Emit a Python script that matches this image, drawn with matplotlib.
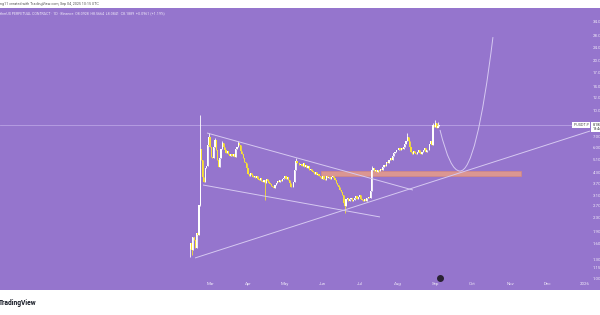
import matplotlib
matplotlib.use("Agg")
import matplotlib.pyplot as plt
from matplotlib.path import Path
from matplotlib.patches import PathPatch, Rectangle
from matplotlib.transforms import blended_transform_factory

plt.rcParams['font.family'] = ['Roboto', 'DejaVu Sans']

# ---------------- data (day index 0 = 2025-02-13) ----------------
closes = [
    1.62, 1.48, 1.75, 1.68, 1.52, 1.85, 1.80, 2.75, 5.90, 5.10,
    4.00, 3.75, 4.55, 4.70, 6.20, 6.95, 6.10, 5.30, 5.25, 6.10,
    6.65, 5.80, 5.05, 4.62, 5.20, 5.90, 6.40, 6.05, 5.80, 5.60,
    5.75, 5.50, 5.35, 5.50, 5.40, 5.55, 5.30, 5.90, 6.10, 6.40,
    6.20, 5.75, 5.55, 5.20, 4.95, 4.85, 4.55, 4.20, 4.05, 4.25,
    4.15, 4.00, 4.10, 3.95, 4.05, 3.90, 3.85, 3.95, 3.80, 3.75,
    3.85, 3.70, 3.90, 3.80, 3.72, 3.65, 3.55, 3.50, 3.45, 3.58,
    3.70, 3.80, 3.75, 3.85, 3.78, 3.90, 3.95, 4.05, 3.92, 4.00,
    3.88, 3.70, 3.50, 3.48, 3.75, 4.40, 5.00, 4.85, 4.90, 4.75,
    4.80, 4.70, 4.85, 4.62, 4.75, 4.55, 4.65, 4.45, 4.50, 4.35,
    4.28, 4.20, 4.30, 4.15, 4.20, 4.10, 4.00, 3.92, 4.05, 3.90,
    3.88, 4.05, 3.95, 4.00, 3.92, 4.02, 4.06, 3.95, 3.88, 3.72,
    3.60, 3.50, 3.35, 3.28, 3.15, 2.80, 2.70, 2.95, 3.00, 2.90,
    2.95, 3.02, 2.88, 2.92, 3.00, 3.10, 2.95, 3.05, 3.12, 2.98,
    2.92, 2.88, 2.95, 2.90, 3.00, 3.05, 3.02, 3.30, 4.40, 4.55,
    4.35, 4.40, 4.30, 4.45, 4.38, 4.50, 4.42, 4.60, 4.75, 4.70,
    4.95, 4.85, 5.05, 5.20, 5.10, 5.35, 5.60, 5.70, 5.85, 5.80,
    5.95, 5.85, 6.00, 5.90, 6.05, 6.30, 6.55, 7.00, 6.60, 6.10,
    5.70, 5.55, 5.75, 5.60, 5.50, 5.70, 5.85, 5.60, 5.50, 5.65,
    5.80, 5.95, 5.70, 5.85, 5.80, 6.30, 6.60, 6.25, 8.20, 7.95,
    8.40, 7.90, 8.09, 8.19,
]
first_open = 1.50
# notable wick extremes {day: price}
wick_highs = {8: 9.43, 15: 7.36, 20: 6.90, 26: 6.60, 39: 6.60, 86: 5.25, 148: 4.70,
              177: 7.36, 198: 8.45, 200: 8.80, 202: 8.57}
wick_lows = {0: 1.34, 1: 1.38, 8: 2.70, 61: 2.93, 126: 2.45, 202: 8.08}

month_days = [16, 47, 77, 108, 138, 169, 200, 230, 261, 291, 322]
month_labels = ['Mar', 'Apr', 'May', 'Jun', 'Jul', 'Aug', 'Sep', 'Oct', 'Nov', 'Dec', '2026']
price_ticks = [34, 28, 24, 20, 17, 14, 12, 10, 7.0, 6.0, 5.1, 4.3, 3.7,
               3.1, 2.7, 2.3, 1.9, 1.6, 1.3, 1.15, 1.0]

# drawings (day, price)
trendlines = [((13.55, 7.36), (181.6, 3.36)),
              ((10.3, 3.60), (154.7, 2.32)),
              ((3.76, 1.32), (326.1, 7.56))]
zone_days = (106.7, 269.5)
zone_prices = (4.07, 4.36)
curve_pts = [(203.7, 7.67), (211.8, 4.36), (220.0, 4.36), (233.5, 4.36), (246.9, 27.5)]

header = ("therUS PERPETUAL CONTRACT \u00b7 1D \u00b7 Binance  O8.0928  H8.5664  "
          "L8.0841  C8.1889  +0.0961 (+1.19%)")
credit = "ng11 created with TradingView.com, Sep 04, 2025 10:15 UTC"
symbol = "IPUSDT.P"

# ---------------- styling ----------------
PURPLE = '#9575cd'
UP = '#ffffff'
DOWN = '#f8e032'
LINE = '#d6c9f1'
TXT = '#efe9f8'

fig = plt.figure(figsize=(6, 3.15), dpi=100)
fig.patch.set_facecolor('white')

bg = fig.add_axes([0, 25 / 315, 1, 282 / 315], zorder=-5)
bg.set_facecolor(PURPLE)
bg.set_xticks([]); bg.set_yticks([])
for s in bg.spines.values():
    s.set_visible(False)

ax = fig.add_axes([0, 35 / 315, 590 / 600, 272 / 315], zorder=1)
ax.set_facecolor('none')
ax.set_yscale('log')
ax.set_xlim(-155.4, 326.1)
ax.set_ylim(0.975, 41.05)
for s in ax.spines.values():
    s.set_visible(False)

# candles
opens = [first_open] + closes[:-1]
for i, (o, c) in enumerate(zip(opens, closes)):
    col = UP if c >= o else DOWN
    hi = wick_highs.get(i, max(o, c))
    lo = wick_lows.get(i, min(o, c))
    if hi > lo:
        ax.vlines(i, lo, hi, color=col, lw=0.6, zorder=3)
    ax.bar(i, abs(c - o) if c != o else 0.01, bottom=min(o, c), width=0.95,
           color=col, edgecolor='none', zorder=4)

# price line
ax.axhline(closes[-1], color='#b9a2e4', lw=0.6, zorder=2)

# zone
ax.add_patch(Rectangle((zone_days[0], zone_prices[0]), zone_days[1] - zone_days[0],
                       zone_prices[1] - zone_prices[0], facecolor='#e39a8c',
                       edgecolor='#d7897c', lw=0.5, alpha=0.9, zorder=2))

# trendlines
for (x0, y0), (x1, y1) in trendlines:
    ax.plot([x0, x1], [y0, y1], color=LINE, lw=0.7, zorder=5, solid_capstyle='butt')

# projected curve
codes = [Path.MOVETO, Path.CURVE3, Path.CURVE3, Path.CURVE3, Path.CURVE3]
ax.add_patch(PathPatch(Path(curve_pts, codes), facecolor='none', edgecolor=LINE,
                       lw=0.7, zorder=5))

# axes ticks
ax.set_xticks(month_days)
ax.set_xticklabels(month_labels)
ax.tick_params(axis='x', length=0, pad=1.6, labelsize=3.2, labelcolor=TXT)
ax.yaxis.tick_right()
ax.set_yticks(price_ticks)
ax.set_yticklabels([f"{v:.4f}" for v in price_ticks])
ax.yaxis.set_minor_locator(matplotlib.ticker.NullLocator())
ax.tick_params(axis='y', length=0, pad=2.2, labelsize=3.2, labelcolor=TXT)

# price labels on scale
bt = blended_transform_factory(ax.transAxes, ax.transData)
ax.text(0.9985, closes[-1], symbol, transform=bt, ha='right', va='center',
        fontsize=2.7, color='#555555', zorder=8, clip_on=False,
        bbox=dict(boxstyle='square,pad=0.25', fc='white', ec='none'))
ax.text(1.004, closes[-1] * 1.03, "8.1889\n13:44:48", transform=bt, ha='left', va='top',
        fontsize=2.7, color='#333333', zorder=8, clip_on=False, linespacing=1.0,
        bbox=dict(boxstyle='square,pad=0.25', fc='white', ec='none'))

# event icon
bt2 = blended_transform_factory(ax.transData, ax.transAxes)
ax.plot([len(closes) - 0.5], [(280 - 278) / 272], 'o', ms=4, color='#2a2233',
        transform=bt2, clip_on=False, zorder=9)

# texts
fig.text(0.0, 1 - 13.5 / 315, header, fontsize=2.6, color=TXT, va='center', ha='left')
fig.text(0.0, 1 - 4 / 315, credit, fontsize=2.6, color='#555555', va='center', ha='left')
fig.text(-0.002, 1 - 303 / 315, "TradingView", fontsize=4.8, fontweight='bold',
         color='#131722', va='center', ha='left')

fig.savefig('out.png', dpi=100, facecolor='white')
